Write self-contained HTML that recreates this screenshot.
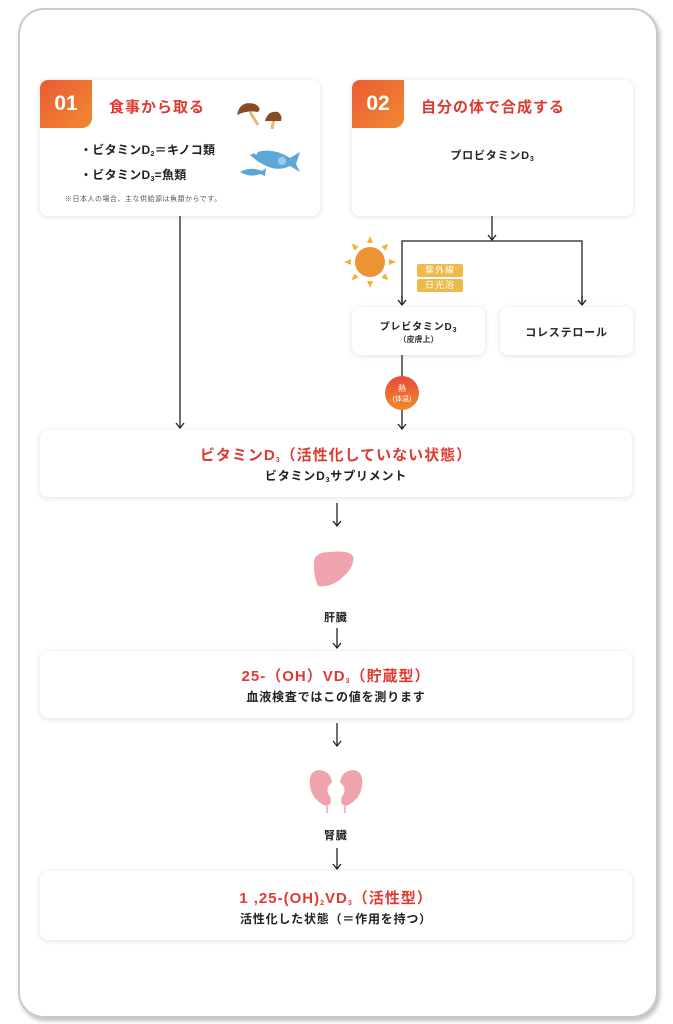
<!DOCTYPE html>
<html><head><meta charset="utf-8"><style>
body{margin:0;background:#fff;width:673px;height:1024px;position:relative;font-family:"Liberation Sans","Noto Sans CJK JP",sans-serif;overflow:hidden}
.frame{position:absolute;left:18px;top:8px;width:636px;height:1006px;border-radius:26px;border:2px solid #c9c9c9;box-shadow:2px 3px 4px rgba(0,0,0,.25);background:#fff}
.box{position:absolute;background:#fff;border-radius:8px;box-shadow:0 1px 6px rgba(0,0,0,.13)}
.abs{position:absolute}
.badge{position:absolute;left:0;top:0;width:52px;height:48px;border-radius:8px 0 10px 0;background:linear-gradient(135deg,#ea5a34,#f08a30);color:#fff;font-weight:bold;font-size:21px;text-align:center;line-height:48px}
.ttl{color:#e03a30;font-weight:bold;font-size:15px;letter-spacing:1px}
.c{text-align:center;width:100%;position:absolute;left:0}
.red{color:#e03a30;font-weight:bold;font-size:15px;letter-spacing:1px}
.blk{color:#222;font-weight:bold;font-size:12px;letter-spacing:.8px}
sub{font-size:7px;vertical-align:-2px}
.tag{position:absolute;background:#efb94a;color:#fff;font-size:9px;width:46px;height:13px;line-height:13px;text-align:center;border-radius:2px;letter-spacing:1px}
</style></head><body>
<div class="frame"></div>
<svg class="abs" style="left:0;top:0" width="673" height="1024">
<defs><marker id="a" markerWidth="10" markerHeight="10" refX="8" refY="5" orient="auto" markerUnits="userSpaceOnUse"><path d="M3,1 L8,5 L3,9" fill="none" stroke="#222" stroke-width="1.3"/></marker></defs>
<g stroke="#222" stroke-width="1.3" fill="none">
<line x1="180" y1="216" x2="180" y2="428" marker-end="url(#a)"/>
<line x1="492" y1="216" x2="492" y2="240" marker-end="url(#a)"/>
<polyline points="402,305 402,241 582,241 582,305"/>
<line x1="402" y1="296" x2="402" y2="305" marker-end="url(#a)"/>
<line x1="582" y1="296" x2="582" y2="305" marker-end="url(#a)"/>
<line x1="402" y1="355" x2="402" y2="429" marker-end="url(#a)"/>
<line x1="337" y1="503" x2="337" y2="526" marker-end="url(#a)"/>
<line x1="337" y1="628" x2="337" y2="648" marker-end="url(#a)"/>
<line x1="337" y1="723" x2="337" y2="746" marker-end="url(#a)"/>
<line x1="337" y1="848" x2="337" y2="869" marker-end="url(#a)"/>
</g>
<defs><linearGradient id="g" x1="0" y1="0" x2="0" y2="1"><stop offset="0" stop-color="#e84a35"/><stop offset="1" stop-color="#f08a2e"/></linearGradient></defs>
<circle cx="402" cy="393" r="17" fill="url(#g)"/>
<text x="402" y="391" font-size="8" fill="#fff" text-anchor="middle" font-family="Liberation Sans,Noto Sans CJK JP,sans-serif">熱</text>
<text x="402" y="401" font-size="7" fill="#fff" text-anchor="middle" font-family="Liberation Sans,Noto Sans CJK JP,sans-serif">(体温)</text>
<g transform="translate(370,262)" fill="#f0b23a">
<circle r="15" fill="#ec9335"/>
<g><polygon points="-3,-19 3,-19 0,-26"/><polygon points="-3,19 3,19 0,26"/><polygon points="-19,-3 -19,3 -26,0"/><polygon points="19,-3 19,3 26,0"/>
<g transform="rotate(45)"><polygon points="-3,-19 3,-19 0,-26"/><polygon points="-3,19 3,19 0,26"/><polygon points="-19,-3 -19,3 -26,0"/><polygon points="19,-3 19,3 26,0"/></g></g>
</g>
<path d="M314,566 Q312,552 330,552 Q348,550 353,556 Q355,566 344,576 Q332,588 318,586 Q314,578 314,566Z" fill="#efa3ad"/>
<path d="M318,770 Q308,772 310,786 Q312,800 326,806 Q333,805 330,796 Q324,790 332,782 Q330,770 318,770Z" fill="#efa3ad"/>
<path d="M354,770 Q364,772 362,786 Q360,800 346,806 Q339,805 342,796 Q348,790 340,782 Q342,770 354,770Z" fill="#efa3ad"/>
<line x1="327" y1="806" x2="327" y2="813" stroke="#efa3ad" stroke-width="1.5"/>
<line x1="345" y1="806" x2="345" y2="813" stroke="#efa3ad" stroke-width="1.5"/>
</svg>

<div class="box" style="left:40px;top:80px;width:280px;height:136px">
 <div class="badge">01</div>
 <div class="abs ttl" style="left:69px;top:16px">食事から取る</div>
 <div class="abs blk" style="left:40px;top:60px;line-height:21px;letter-spacing:.3px">・ビタミンD<sub>2</sub>＝キノコ類<br>・ビタミンD<sub>3</sub>=魚類</div>
 <div class="abs" style="left:25px;top:114px;font-size:7px;color:#555;letter-spacing:.5px">※日本人の場合、主な供給源は魚類からです。</div>
</div>
<div class="box" style="left:352px;top:80px;width:281px;height:136px">
 <div class="badge">02</div>
 <div class="abs ttl" style="left:69px;top:16px">自分の体で合成する</div>
 <div class="c blk" style="top:67px;font-size:11px">プロビタミンD<sub>3</sub></div>
</div>
<svg class="abs" style="left:230px;top:95px" width="80" height="90">
<line x1="20" y1="17" x2="28" y2="30" stroke="#e5b77a" stroke-width="3"/>
<path d="M7,20 Q10,5 25,9 Q32,13 28,17 Q18,15 7,20Z" fill="#8a4a22"/>
<line x1="44" y1="23" x2="42" y2="34" stroke="#e5b77a" stroke-width="3"/>
<path d="M35,26 Q38,15 48,17 Q53,21 51,26Z" fill="#8a4a22"/>
<path d="M20,60 Q40,50 60,63 L70,57 L66,69 L70,77 L60,71 Q42,80 20,60Z" fill="#5aa7d8"/>
<circle cx="26" cy="58" r="1.5" fill="#fff"/>
<circle cx="52" cy="66" r="4" fill="#9cccec"/>
<path d="M10,77 Q20,71 32,76 L36,73 L35,81 L30,79 Q20,83 10,77Z" fill="#5aa7d8"/>
</svg>
<div class="tag" style="left:417px;top:264px">紫外線</div>
<div class="tag" style="left:417px;top:279px">日光浴</div>
<div class="box" style="left:352px;top:307px;width:133px;height:48px">
 <div class="c blk" style="top:11px;font-size:10px">プレビタミンD<sub>3</sub></div>
 <div class="c" style="top:27px;font-size:8px;color:#333;font-weight:bold">（皮膚上）</div>
</div>
<div class="box" style="left:500px;top:307px;width:133px;height:48px">
 <div class="c blk" style="top:17px;font-size:11px">コレステロール</div>
</div>
<div class="box" style="left:40px;top:430px;width:592px;height:67px">
 <div class="c red" style="top:14px">ビタミンD<sub>3</sub>（活性化していない状態）</div>
 <div class="c blk" style="top:37px">ビタミンD<sub>3</sub>サプリメント</div>
</div>
<div class="abs blk" style="left:324px;top:609px;font-size:11px">肝臓</div>
<div class="box" style="left:40px;top:651px;width:592px;height:67px">
 <div class="c red" style="top:14px">25-（OH）VD<sub>3</sub>（貯蔵型）</div>
 <div class="c blk" style="top:37px">血液検査ではこの値を測ります</div>
</div>
<div class="abs blk" style="left:324px;top:827px;font-size:11px">腎臓</div>
<div class="box" style="left:40px;top:871px;width:592px;height:69px">
 <div class="c red" style="top:16px">1 ,25-(OH)<sub>2</sub>VD<sub>3</sub>（活性型）</div>
 <div class="c blk" style="top:39px">活性化した状態（＝作用を持つ）</div>
</div>
</body></html>
